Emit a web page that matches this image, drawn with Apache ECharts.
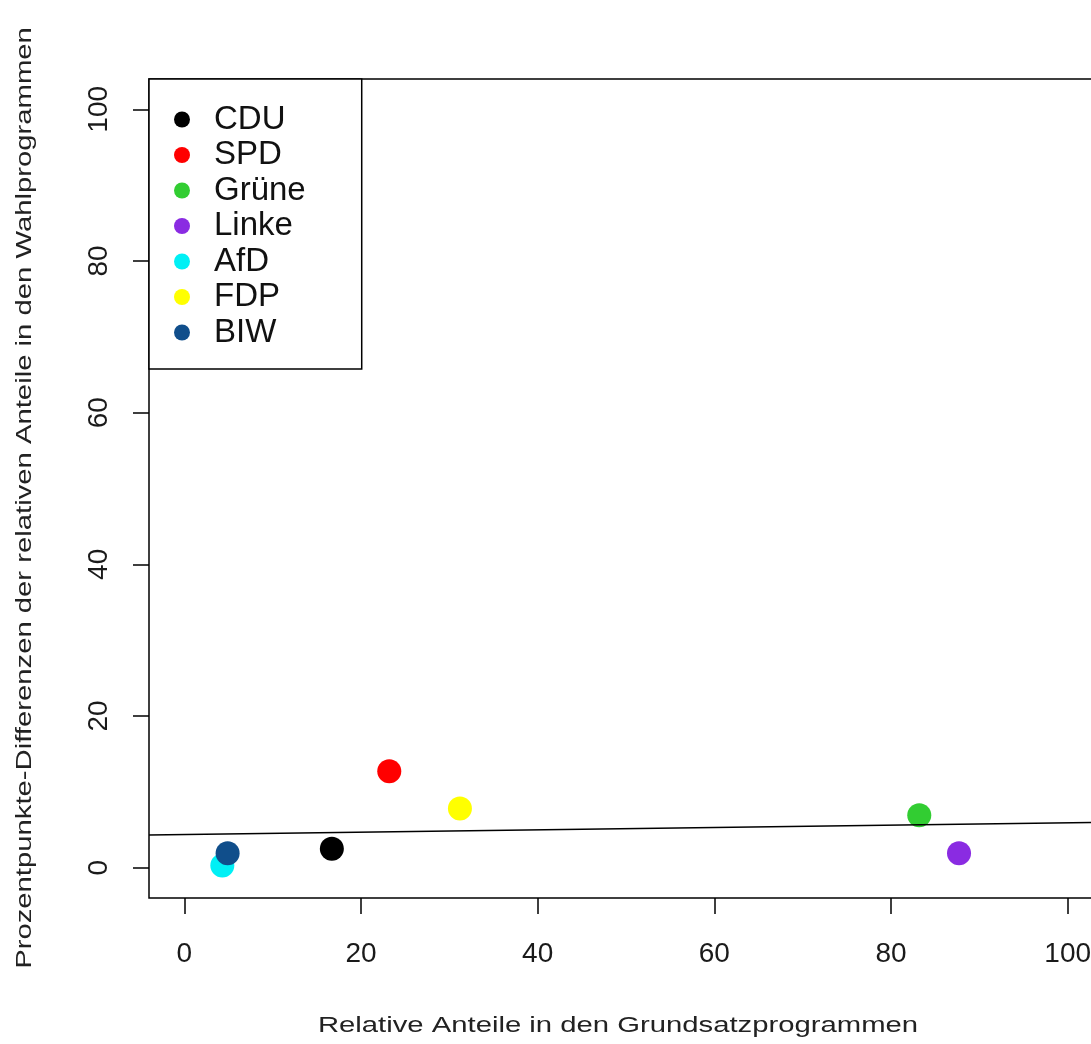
<!DOCTYPE html>
<html>
<head>
<meta charset="utf-8">
<title>Grundsatz- vs. Wahlprogramme</title>
<script src="https://cdn.jsdelivr.net/npm/echarts@6/dist/echarts.min.js"></script>
<style>
  html, body { margin: 0; padding: 0; background: #fff; }
  #chart { width: 1091px; height: 1044px; }
</style>
</head>
<body>
<div id="chart"></div>
<script>
// Parties and their values
const parties = ['CDU', 'SPD', 'Grüne', 'Linke', 'AfD', 'FDP', 'BIW'];
const grundsatzAnteile = [16.7, 23.2, 83.2, 87.7, 4.3, 31.2, 4.9];
const wahlDifferenz = [2.5, 12.7, 6.9, 1.9, 0.3, 7.8, 1.9];
const partyColors = ['#000000', '#ff0000', '#32cd32', '#8a2be2', '#00f0f5', '#ffff00', '#104e8b'];

// Axis ticks and plotting range
const xTicks = [0, 20, 40, 60, 80, 100];
const yTicks = [0, 20, 40, 60, 80, 100];
const axisRange = [-4, 104];

// Linear fit (intercept, slope)
const fitIntercept = 4.38;
const fitSlope = 0.0152;

const fitLine = axisRange.map(x => [x, fitIntercept + fitSlope * x]);

const FONT = '"Liberation Sans", Arial, sans-serif';
const chart = echarts.init(document.getElementById('chart'), null, { renderer: 'canvas' });

const pointSeries = parties.map((name, i) => ({
  name: name,
  type: 'scatter',
  data: [[grundsatzAnteile[i], wahlDifferenz[i]]],
  symbol: 'circle',
  symbolSize: 24,
  itemStyle: { color: partyColors[i], opacity: 1 },
  emphasis: { disabled: true },
  z: 2
}));

const axisCommon = {
  type: 'value',
  min: axisRange[0],
  max: axisRange[1],
  axisLine: { show: false, onZero: false },
  splitLine: { show: false },
  axisTick: { show: true, inside: false, length: 16, lineStyle: { color: '#000', width: 1.5 } }
};

chart.setOption({
  backgroundColor: '#ffffff',
  animation: false,
  grid: {
    left: 149, top: 79, width: 954, height: 819,
    outerBoundsMode: 'none', containLabel: false,
    show: true, borderColor: '#000', borderWidth: 1.5, backgroundColor: 'transparent'
  },
  xAxis: Object.assign({}, axisCommon, {
    axisTick: Object.assign({}, axisCommon.axisTick, { customValues: xTicks }),
    axisLabel: { customValues: xTicks, fontFamily: FONT, fontSize: 28, color: '#1a1a1a', margin: 42 }
  }),
  yAxis: Object.assign({}, axisCommon, {
    axisTick: Object.assign({}, axisCommon.axisTick, { customValues: yTicks }),
    axisLabel: { customValues: yTicks, fontFamily: FONT, fontSize: 28, color: '#1a1a1a', margin: 36, rotate: 90 }
  }),
  legend: {
    orient: 'vertical',
    left: 149, top: 79,
    padding: [24, 56, 20, 25],
    backgroundColor: '#fff',
    borderColor: '#000', borderWidth: 1.5,
    icon: 'circle',
    itemWidth: 16, itemHeight: 16,
    itemGap: 2.5,
    itemStyle: { borderWidth: 0 },
    textStyle: { fontFamily: FONT, fontSize: 33, lineHeight: 32, color: '#111', padding: [0, 0, 0, 19] },
    selectedMode: false,
    data: parties
  },
  graphic: [
    {
      type: 'text',
      x: 618, y: 1026,
      style: { text: 'Relative Anteile in den Grundsatzprogrammen', font: '22px ' + FONT, fill: '#222', align: 'center', verticalAlign: 'middle' },
      scaleX: 1.33
    },
    {
      type: 'text',
      x: 25, y: 498, rotation: Math.PI / 2,
      style: { text: 'Prozentpunkte-Differenzen der relativen Anteile in den Wahlprogrammen', font: '22px ' + FONT, fill: '#222', align: 'center', verticalAlign: 'middle' },
      scaleX: 1.33
    }
  ],
  series: pointSeries.concat([{
    name: 'fit',
    type: 'line',
    data: fitLine,
    symbol: 'none',
    lineStyle: { color: '#000', width: 1.5 },
    clip: true,
    silent: true,
    z: 3
  }])
});
</script>
</body>
</html>
